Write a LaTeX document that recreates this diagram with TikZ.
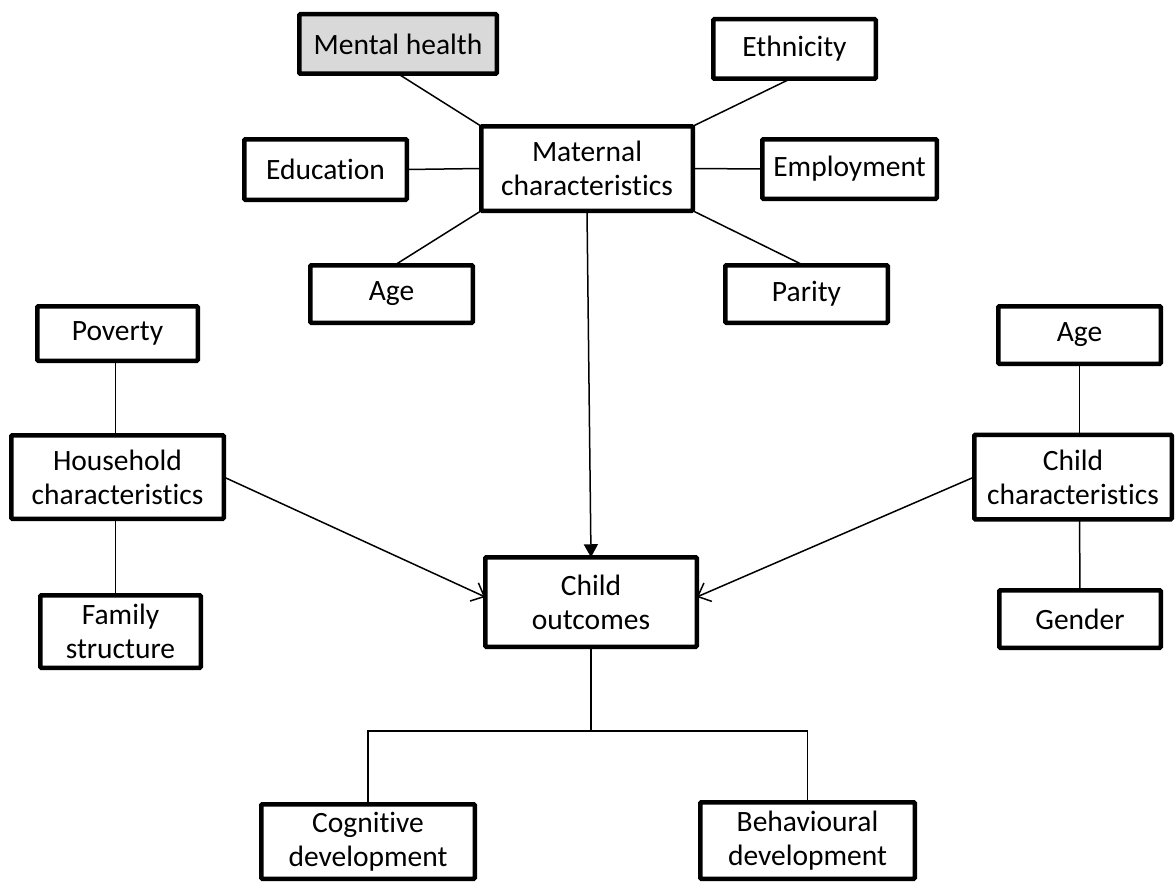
\documentclass[tikz,border=0pt]{standalone}
\usepackage{fontspec}
\setmainfont[Ligatures={NoCommon}]{Carlito}
\usetikzlibrary{arrows.meta}
\definecolor{boxgray}{HTML}{D9D9D9}
\begin{document}
\begin{tikzpicture}[x=1pt,y=-1pt,
  box/.style={draw=black, line width=4.5pt, fill=white, align=center, inner sep=0pt, outer sep=0pt,
    font=\fontsize{29.5}{34}\selectfont, rounded corners=1pt},
  link/.style={line width=1.5pt},
  solidarrow/.style={line width=1.5pt, -{Triangle[length=13pt,width=14pt]}},
  openarrow/.style={line width=1.5pt, -{Straight Barb[length=11pt,width=20pt,line width=1.5pt]}}
]
\useasboundingbox (0,0) rectangle (1176,891);

\node[box, fill=boxgray, minimum width=197.5pt, minimum height=59.5pt] (mh) at (398,44) {Mental health};
\node[box, minimum width=162.5pt, minimum height=59.5pt] (eth) at (794.5,49) {Ethnicity};
\node[box, minimum width=162.5pt, minimum height=60.5pt] (edu) at (325.5,169.5) {Education};
\node[box, minimum width=211.5pt, minimum height=84.5pt] (mat) at (587,168.5) {Maternal\\characteristics};
\node[box, minimum width=174.5pt, minimum height=59.5pt] (emp) at (849.5,169) {Employment};
\node[box, minimum width=162.5pt, minimum height=57.5pt] (agem) at (391.5,294) {Age};
\node[box, minimum width=162.5pt, minimum height=57.5pt] (par) at (806.5,294) {Parity};

\node[box, minimum width=160.5pt, minimum height=54.5pt] (pov) at (117.5,333.5) {Poverty};
\node[box, minimum width=212.5pt, minimum height=83.5pt] (hh) at (117.5,477) {Household\\characteristics};
\node[box, minimum width=160.5pt, minimum height=72.5pt] (fam) at (120.5,631.5) {Family\\structure};

\node[box, minimum width=162.5pt, minimum height=57.5pt] (agec) at (1079.5,335) {Age};
\node[box, minimum width=197.5pt, minimum height=84.5pt] (cc) at (1073,477) {Child\\characteristics};
\node[box, minimum width=161.5pt, minimum height=57.5pt] (gen) at (1080,619) {Gender};

\node[box, minimum width=211.5pt, minimum height=89.5pt] (out) at (591,602) {Child\\outcomes};
\node[box, minimum width=213.5pt, minimum height=74.5pt] (cog) at (368,841.5) {Cognitive\\development};
\node[box, minimum width=214.5pt, minimum height=76.5pt] (beh) at (807.5,840.5) {Behavioural\\development};

\coordinate (split) at (591,731);

\draw[link] (mh.south) -- (mat.north west);
\draw[link] ([xshift=-4pt]eth.south) -- (mat.north east);
\draw[link] (edu.east) -- (mat.west);
\draw[link] (mat.east) -- (emp.west);
\draw[link] ([xshift=3pt]agem.north) -- (mat.south west);
\draw[link] ([xshift=-3pt]par.north) -- (mat.south east);
\draw[solidarrow] (mat.south) -- (out.north);
\draw[openarrow] (hh.east) -- ([yshift=5pt]out.west);
\draw[openarrow] (cc.west) -- ([yshift=5pt]out.east);
\draw[link] ([xshift=-2pt]pov.south) -- ([xshift=-2pt]pov.south |- hh.north);
\draw[link] ([xshift=-2pt]hh.south) -- ([xshift=-2pt]hh.south |- fam.north);
\draw[link] (agec.south) -- (agec.south |- cc.north);
\draw[link] (cc.south -| agec.south) -- (gen.north);
\draw[link] (out.south) -- (split);
\draw[link] (split) -| (cog.north);
\draw[link] (split) -| (beh.north);
\end{tikzpicture}
\end{document}
